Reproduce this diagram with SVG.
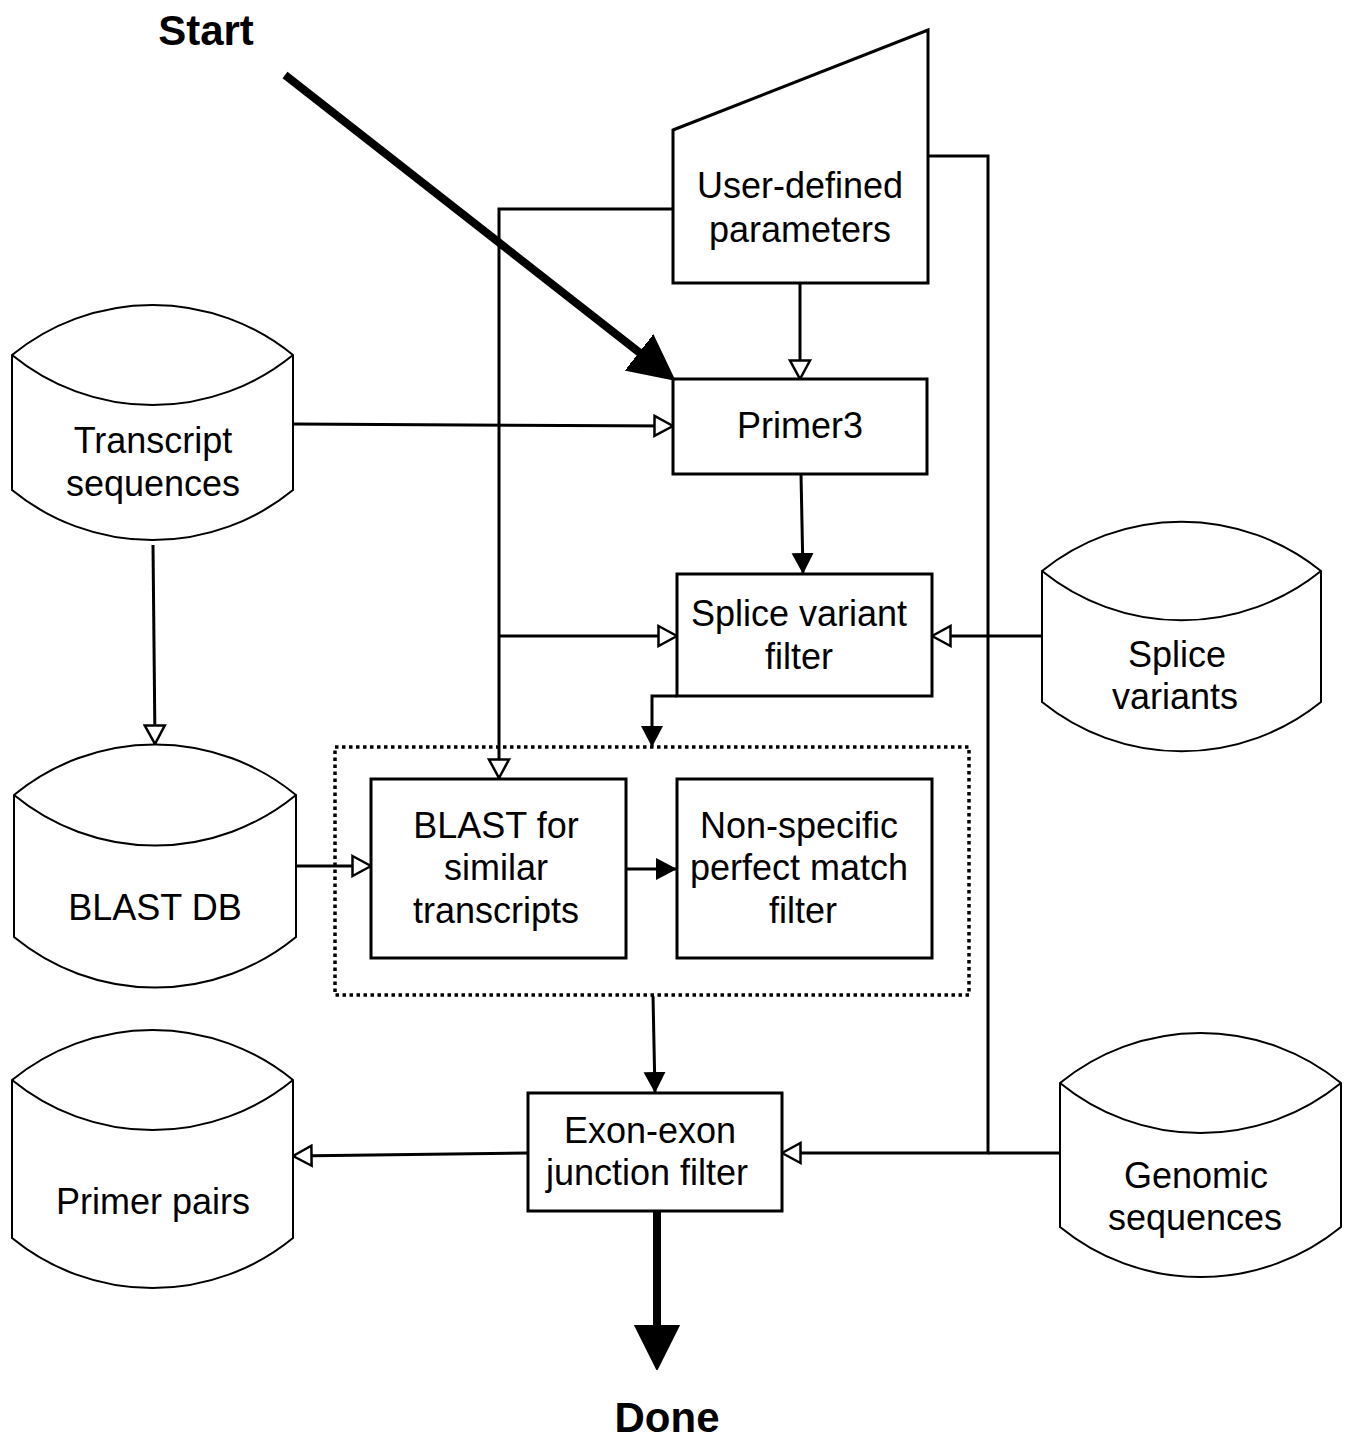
<svg xmlns="http://www.w3.org/2000/svg" width="1346" height="1443" viewBox="0 0 1346 1443">
  <style>
    .bg { fill: #ffffff; }
    .box { fill: #ffffff; stroke: #000000; stroke-width: 3; }
    .cyl { fill: #ffffff; stroke: #000000; stroke-width: 2; }
    .cylin { fill: none; stroke: #000000; stroke-width: 2; }
    .dotted { fill: none; stroke: #000000; stroke-width: 3.5; stroke-dasharray: 3.5 3.5; }
    .conn { fill: none; stroke: #000000; stroke-width: 3; }
    .thick { fill: none; stroke: #000000; stroke-width: 8; }
    .lbl { font-family: "Liberation Sans", Arial, sans-serif; font-size: 36px; fill: #000000; text-anchor: middle; }
    .big { font-family: "Liberation Sans", Arial, sans-serif; font-size: 42px; font-weight: bold; fill: #000000; text-anchor: middle; }
  </style>
  <defs>
    <marker id="hollow" markerUnits="userSpaceOnUse" viewBox="0 0 22 24" markerWidth="22" markerHeight="24" refX="20" refY="12" orient="auto">
      <path d="M1.5,2 L20,12 L1.5,22 Z" fill="#ffffff" stroke="#000000" stroke-width="2.5"/>
    </marker>
    <marker id="solid" markerUnits="userSpaceOnUse" viewBox="0 0 22 24" markerWidth="22" markerHeight="24" refX="21" refY="12" orient="auto">
      <path d="M0,1 L21,12 L0,23 Z" fill="#000000"/>
    </marker>
    <marker id="bighead" markerUnits="userSpaceOnUse" viewBox="0 0 46 48" markerWidth="46" markerHeight="48" refX="1" refY="24" orient="auto">
      <path d="M0,2 L44,24 L0,46 Z" fill="#000000" stroke="#000000" stroke-width="2" stroke-linejoin="round"/>
    </marker>
  </defs>

  <rect class="bg" x="0" y="0" width="1346" height="1443"/>

  <g id="connectors">
    <!-- Start thick arrow -->
    <line class="thick" x1="285" y1="75" x2="640" y2="353" marker-end="url(#bighead)"/>
    <!-- parameters -> Primer3 -->
    <line class="conn" x1="800" y1="283" x2="800" y2="379" marker-end="url(#hollow)"/>
    <!-- parameters left -> BLAST -->
    <polyline class="conn" points="673,209 499,209 499,778" marker-end="url(#hollow)"/>
    <!-- branch to splice filter -->
    <line class="conn" x1="499" y1="636" x2="677" y2="636" marker-end="url(#hollow)"/>
    <!-- parameters right -> exon filter -->
    <polyline class="conn" points="928,156 988,156 988,1153 782,1153" marker-end="url(#hollow)"/>
    <!-- genomic -> exon filter line -->
    <line class="conn" x1="1060" y1="1153" x2="988" y2="1153"/>
    <!-- transcript -> Primer3 -->
    <line class="conn" x1="293" y1="424" x2="673" y2="426" marker-end="url(#hollow)"/>
    <!-- transcript -> BLAST DB -->
    <line class="conn" x1="153" y1="545" x2="155" y2="744" marker-end="url(#hollow)"/>
    <!-- Primer3 -> splice filter -->
    <line class="conn" x1="801" y1="474" x2="803" y2="574" marker-end="url(#solid)"/>
    <!-- splice variants -> splice filter -->
    <line class="conn" x1="1042" y1="636" x2="932" y2="636" marker-end="url(#hollow)"/>
    <!-- splice filter -> dotted group -->
    <polyline class="conn" points="677,696 652,696 652,747" marker-end="url(#solid)"/>
    <!-- BLAST DB -> BLAST box -->
    <line class="conn" x1="296" y1="866" x2="371" y2="866" marker-end="url(#hollow)"/>
    <!-- BLAST -> non-specific -->
    <line class="conn" x1="626" y1="869" x2="677" y2="869" marker-end="url(#solid)"/>
    <!-- dotted group -> exon -->
    <line class="conn" x1="653" y1="996" x2="655" y2="1093" marker-end="url(#solid)"/>
    <!-- exon -> primer pairs -->
    <line class="conn" x1="528" y1="1153" x2="293" y2="1156" marker-end="url(#hollow)"/>
    <!-- Done thick arrow -->
    <line class="thick" x1="657" y1="1211" x2="657" y2="1326" marker-end="url(#bighead)"/>
  </g>

  <g id="start">
    <text class="big" x="206" y="45">Start</text>
  </g>

  <g id="done">
    <text class="big" x="667" y="1432">Done</text>
  </g>

  <g id="user-parameters">
    <polygon class="box" points="673,130 928,30 928,283 673,283"/>
    <text class="lbl" x="800" y="198">User-defined</text>
    <text class="lbl" x="800" y="242">parameters</text>
  </g>

  <g id="primer3">
    <rect class="box" x="673" y="379" width="254" height="95"/>
    <text class="lbl" x="800" y="438">Primer3</text>
  </g>

  <g id="transcript-sequences">
    <path class="cyl" d="M12,355 A222 222 0 0 1 293,355 L293,490 A222 222 0 0 1 12,490 Z"/>
    <path class="cylin" d="M12,355 A222 222 0 0 0 293,355"/>
    <text class="lbl" x="153" y="453">Transcript</text>
    <text class="lbl" x="153" y="496">sequences</text>
  </g>

  <g id="splice-filter">
    <rect class="box" x="677" y="574" width="255" height="122"/>
    <text class="lbl" x="799" y="626">Splice variant</text>
    <text class="lbl" x="799" y="669">filter</text>
  </g>

  <g id="splice-variants">
    <path class="cyl" d="M1042,571 A222 222 0 0 1 1321,571 L1321,702 A222 222 0 0 1 1042,702 Z"/>
    <path class="cylin" d="M1042,571 A222 222 0 0 0 1321,571"/>
    <text class="lbl" x="1177" y="667">Splice</text>
    <text class="lbl" x="1175" y="709">variants</text>
  </g>

  <g id="blast-db">
    <path class="cyl" d="M14,795 A222 222 0 0 1 296,795 L296,937 A222 222 0 0 1 14,937 Z"/>
    <path class="cylin" d="M14,795 A222 222 0 0 0 296,795"/>
    <text class="lbl" x="155" y="920">BLAST DB</text>
  </g>

  <g id="blast-group">
    <rect class="dotted" x="335" y="747" width="634" height="248"/>
  </g>

  <g id="blast-similar">
    <rect class="box" x="371" y="779" width="255" height="179"/>
    <text class="lbl" x="496" y="838">BLAST for</text>
    <text class="lbl" x="496" y="880">similar</text>
    <text class="lbl" x="496" y="923">transcripts</text>
  </g>

  <g id="non-specific">
    <rect class="box" x="677" y="779" width="255" height="179"/>
    <text class="lbl" x="799" y="838">Non-specific</text>
    <text class="lbl" x="799" y="880">perfect match</text>
    <text class="lbl" x="803" y="923">filter</text>
  </g>

  <g id="exon-filter">
    <rect class="box" x="528" y="1093" width="254" height="118"/>
    <text class="lbl" x="650" y="1143">Exon-exon</text>
    <text class="lbl" x="647" y="1185">junction filter</text>
  </g>

  <g id="primer-pairs">
    <path class="cyl" d="M12,1080 A222 222 0 0 1 293,1080 L293,1238 A222 222 0 0 1 12,1238 Z"/>
    <path class="cylin" d="M12,1080 A222 222 0 0 0 293,1080"/>
    <text class="lbl" x="153" y="1214">Primer pairs</text>
  </g>

  <g id="genomic-sequences">
    <path class="cyl" d="M1060,1083 A222 222 0 0 1 1341,1083 L1341,1227 A222 222 0 0 1 1060,1227 Z"/>
    <path class="cylin" d="M1060,1083 A222 222 0 0 0 1341,1083"/>
    <text class="lbl" x="1196" y="1188">Genomic</text>
    <text class="lbl" x="1195" y="1230">sequences</text>
  </g>
</svg>
